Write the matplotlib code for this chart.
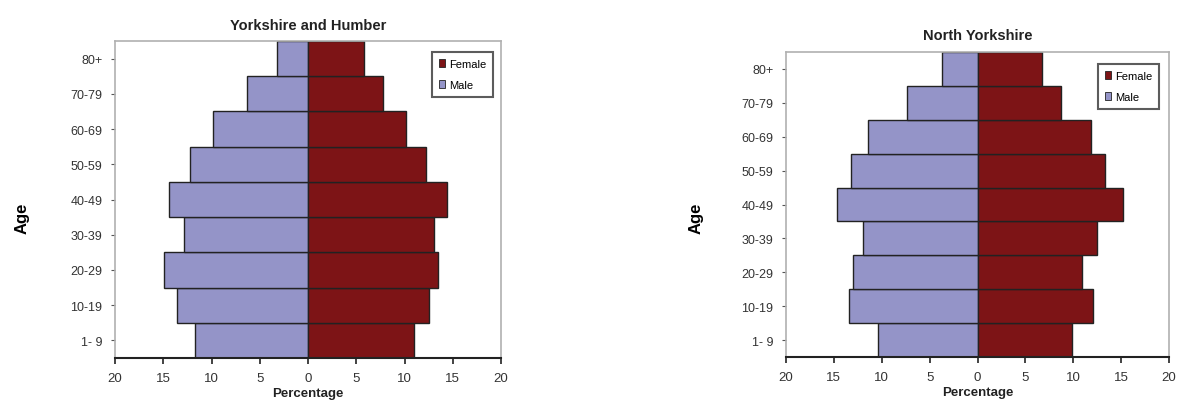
import numpy as np
import matplotlib
matplotlib.use('Agg')
import matplotlib.pyplot as plt

plt.rcParams['font.family'] = ['Liberation Sans Narrow', 'Liberation Sans', 'DejaVu Sans']

ages = ['1- 9', '10-19', '20-29', '30-39', '40-49', '50-59', '60-69', '70-79', '80+']

yh_male = [11.7, 13.6, 14.9, 12.85, 14.4, 12.2, 9.8, 6.35, 3.2]
yh_female = [11.0, 12.5, 13.5, 13.1, 14.4, 12.2, 10.2, 7.8, 5.8]

ny_male = [10.4, 13.4, 13.0, 12.0, 14.7, 13.2, 11.4, 7.4, 3.7]
ny_female = [9.9, 12.1, 10.9, 12.5, 15.2, 13.3, 11.9, 8.7, 6.7]

titles = ['Yorkshire and Humber', 'North Yorkshire']
xticks = [-20, -15, -10, -5, 0, 5, 10, 15, 20]

MALE = '#9494c8'
FEMALE = '#7d1416'

W, H = 1179, 410
fig = plt.figure(figsize=(W / 100, H / 100), dpi=100)

# axes boxes in pixels: left, top, right, bottom
boxes = [(115, 42, 501, 359), (786, 53, 1169, 358)]
age_x = [22, 696]
legend_boxes = [(432, 53, 490, 106), (1098, 65, 1158, 116)]


def pyramid(box, title, male, female, agex, legbox):
    l, t, r, b = box
    ax = fig.add_axes([l / W, 1 - b / H, (r - l) / W, (b - t) / H])
    y = np.arange(len(ages))
    ax.barh(y, [-m for m in male], height=1.0, color=MALE, edgecolor='#222222',
            linewidth=1.0, label='Male')
    ax.barh(y, female, height=1.0, color=FEMALE, edgecolor='#222222',
            linewidth=1.0, label='Female')
    ax.set_xlim(-20, 20)
    ax.set_ylim(-0.5, len(ages) - 0.5)
    ax.set_yticks(y)
    ax.set_yticklabels(ages, fontsize=9, color='#333333')
    ax.set_xticks(xticks)
    ax.set_xticklabels([str(abs(v)) for v in xticks], fontsize=9.5, color='#333333')
    ax.tick_params(axis='x', direction='out', length=4, width=1.2, color='#222222', pad=6)
    ax.tick_params(axis='y', direction='out', length=3, width=0.8, color='#555555', pad=6)
    for s in ['top', 'right', 'left']:
        ax.spines[s].set_color('#b0b0b0')
        ax.spines[s].set_linewidth(1.2)
    ax.spines['bottom'].set_color('#222222')
    ax.spines['bottom'].set_linewidth(1.5)
    ax.set_title(title, fontsize=10.5, fontweight='bold', color='#222222', pad=9)
    ax.set_xlabel('Percentage', fontsize=9.5, fontweight='bold', color='#222222', labelpad=2)

    fig.text(agex / W, 1 - 218 / H, 'Age', rotation=90, fontsize=12, fontweight='bold',
             family=['Liberation Sans', 'DejaVu Sans'], ha='center', va='center')

    lx0, ly0, lx1, ly1 = legbox
    handles, labels = ax.get_legend_handles_labels()
    leg = ax.legend(handles[::-1], labels[::-1], loc='upper left',
                    bbox_to_anchor=((lx0 - l) / (r - l), 1 - (ly0 - t) / (b - t)),
                    fontsize=8, frameon=True, fancybox=False, handlelength=0.55,
                    handleheight=0.8, handletextpad=0.4, borderpad=0.6,
                    labelspacing=1.0, borderaxespad=0)
    leg.get_frame().set_edgecolor('#333333')
    leg.get_frame().set_linewidth(1.5)
    for h in leg.legend_handles:
        h.set_linewidth(0.6)


pyramid(boxes[0], titles[0], yh_male, yh_female, age_x[0], legend_boxes[0])
pyramid(boxes[1], titles[1], ny_male, ny_female, age_x[1], legend_boxes[1])

fig.savefig('out.png', dpi=100)
